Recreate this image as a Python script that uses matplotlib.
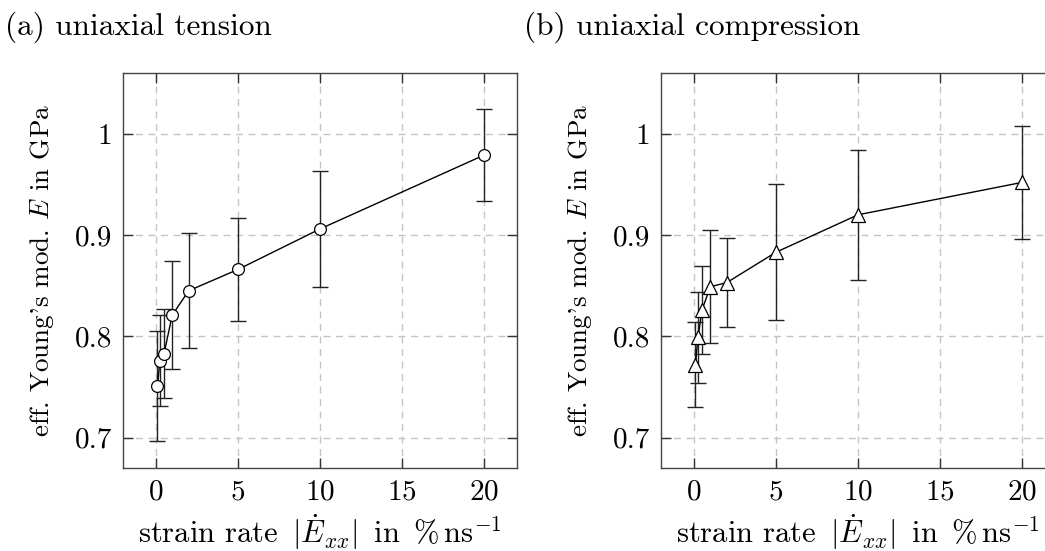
import matplotlib
matplotlib.use("Agg")
import matplotlib.pyplot as plt

plt.rcParams['font.family'] = 'serif'
plt.rcParams['font.serif'] = ['cmr10', 'DejaVu Serif']
plt.rcParams['mathtext.fontset'] = 'cm'
plt.rcParams['axes.formatter.use_mathtext'] = True

# strain rate in %/ns
rate = [0.1, 0.25, 0.5, 1, 2, 5, 10, 20]

# (a) uniaxial tension
E_tension = [0.751, 0.776, 0.783, 0.821, 0.845, 0.866, 0.906, 0.979]
err_tension = [0.054, 0.045, 0.044, 0.053, 0.057, 0.051, 0.057, 0.045]

# (b) uniaxial compression
E_compression = [0.772, 0.799, 0.826, 0.849, 0.853, 0.883, 0.920, 0.952]
err_compression = [0.042, 0.045, 0.043, 0.056, 0.044, 0.067, 0.064, 0.056]

xticks = [0, 5, 10, 15, 20]
yticks = [0.7, 0.8, 0.9, 1.0]
yticklabels = ['0.7', '0.8', '0.9', '1']

titles = ['(a) uniaxial tension', '(b) uniaxial compression']
xlabel = r'strain rate $\,|\dot{E}_{xx}|\,$ in $\,\%\,\mathrm{ns}^{-1}$'
ylabel = r"eff. Young's mod. $E$ in GPa"

FS = 21

fig = plt.figure(figsize=(10.45, 5.51), dpi=100)
ax1 = fig.add_axes([123/1045, 83/551, 394/1045, 395/551])
ax2 = fig.add_axes([661/1045, 83/551, 394/1045, 395/551])


def draw(ax, y, yerr, marker, ms):
    ax.errorbar(rate, y, yerr=yerr, fmt='none', ecolor='#222222',
                elinewidth=1.0, capsize=5.5, capthick=1.0, zorder=3)
    ax.plot(rate, y, color='black', lw=1.0, marker=marker, ms=ms,
            mfc='white', mec='black', mew=0.9, zorder=4)
    ax.set_xlim(-2, 22)
    ax.set_ylim(0.67, 1.06)
    ax.set_xticks(xticks)
    ax.set_yticks(yticks)
    ax.set_yticklabels(yticklabels)
    ax.grid(True, color='#c4c4c4', ls=(0, (5, 4)), lw=1.0)
    ax.set_axisbelow(True)
    ax.tick_params(direction='in', length=7, width=1.0, color='#333333',
                   top=True, right=True, labelsize=FS, pad=8)
    for s in ax.spines.values():
        s.set_color('#444444')
        s.set_linewidth(1.0)
    ax.set_xlabel(xlabel, fontsize=22, labelpad=5)
    ax.set_ylabel(ylabel, fontsize=19.5, labelpad=13)


draw(ax1, E_tension, err_tension, 'o', 8.5)
draw(ax2, E_compression, err_compression, '^', 10.5)

fig.text(5/1045, 1 - 27/551, titles[0], fontsize=22.5, va='center', ha='left')
fig.text(524/1045, 1 - 27/551, titles[1], fontsize=22.5, va='center', ha='left')

fig.savefig('out.png', dpi=100)
